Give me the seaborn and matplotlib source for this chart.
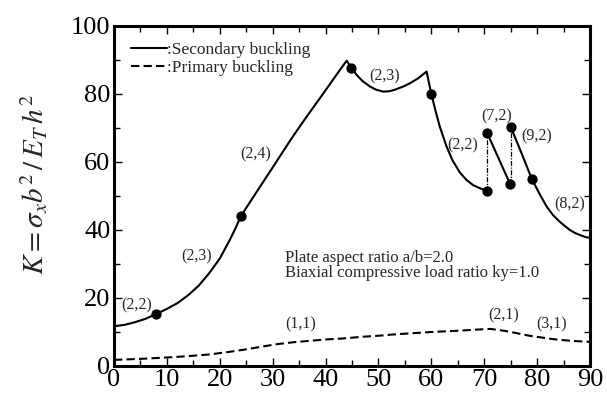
import matplotlib
matplotlib.use("Agg")
import matplotlib.pyplot as plt
from matplotlib.ticker import MultipleLocator
import seaborn as sns

# ---- data ----
sec1_x = [0, 2, 4, 6, 8, 10, 12, 14, 16, 18, 20, 22, 23, 24, 25, 27.6, 30, 33.6, 36,
          38.9, 41, 43, 44.0, 44.9, 46, 47, 48.4, 49.5, 50.9, 52, 53, 54.7, 56, 57.5,
          59.1, 60.0, 60.8, 61.6, 62.3, 62.9, 64, 65.4, 66.6, 67.9, 69.3, 70.6]
sec1_y = [11.7, 12.1, 12.9, 13.9, 15.3, 16.8, 18.5, 20.8, 23.6, 27.3, 31.6, 37.4, 40.6,
          44.1, 46.5, 52.7, 58.4, 67.0, 72.4, 78.7, 83.3, 87.7, 89.8, 87.6, 85.4, 83.8,
          82.2, 81.3, 80.7, 80.8, 81.2, 82.2, 83.2, 84.6, 86.6, 80.0, 75.0, 70.4, 67.2,
          64.5, 60.5, 56.9, 54.8, 53.2, 52.2, 51.6]
sec2_x = [70.6, 74.9]
sec2_y = [68.4, 53.5]
sec3_x = [75.0, 77.0, 79.0, 80.5, 81.8, 83.0, 84.3, 85.3, 86.2, 87.2, 88.3, 89.2, 90.0]
sec3_y = [70.4, 62.8, 55.0, 50.5, 46.9, 44.4, 42.4, 41.1, 40.0, 39.1, 38.4, 37.9, 37.7]

jump_x = [70.6, 75.0]
jump_lo = [51.6, 53.5]
jump_hi = [68.4, 70.4]

pt_x = [8, 24, 44.9, 60.0, 70.6, 70.6, 74.9, 75.0, 79.0]
pt_y = [15.3, 44.1, 87.6, 80.0, 51.6, 68.4, 53.5, 70.4, 55.0]

pri_x = [0, 5, 10, 14, 18.1, 22, 25, 28, 30.7, 34, 37, 40, 43.3, 47, 50, 53, 56.0, 60,
         65.4, 68.5, 71.2, 74, 76, 78.5, 81.2, 83, 85, 87.5, 90]
pri_y = [1.8, 2.1, 2.5, 2.9, 3.4, 4.2, 4.9, 5.7, 6.4, 7.0, 7.4, 7.8, 8.1, 8.6, 8.9,
         9.3, 9.6, 10.0, 10.4, 10.7, 10.9, 10.3, 9.7, 8.9, 8.3, 7.9, 7.6, 7.3, 7.1]

mode_labels = ["(2,2)", "(2,3)", "(2,4)", "(2,3)", "(2,2)", "(7,2)", "(9,2)", "(8,2)",
               "(1,1)", "(2,1)", "(3,1)"]
mode_x = [4.3, 15.6, 26.7, 51.2, 66.0, 72.3, 79.9, 86.2, 35.2, 73.6, 82.7]
mode_y = [17.9, 32.1, 62.1, 85.1, 65.0, 73.3, 67.4, 47.6, 12.1, 15.0, 12.1]

xticks = [0, 10, 20, 30, 40, 50, 60, 70, 80, 90]
yticks = [0, 20, 40, 60, 80, 100]
note_lines = ["Plate aspect ratio a/b=2.0", "Biaxial compressive load ratio ky=1.0"]
legend_labels = [":Secondary buckling", ":Primary buckling"]
ylabel = r"$K\,\!=\,\!\sigma_x b^2\,/\,E_T\, h^2$"

# ---- style ----
sns.set_theme(style="ticks")
plt.rcParams["font.family"] = ["Liberation Serif", "DejaVu Serif"]
plt.rcParams["mathtext.fontset"] = "stix"

fig = plt.figure(figsize=(6.07, 3.94), dpi=100)
ax = fig.add_axes([114 / 607, 1 - 366 / 394, 476 / 607, 340 / 394])

lw = 1.5
sns.lineplot(x=sec1_x, y=sec1_y, ax=ax, color="black", lw=lw, sort=False,
             estimator=None, label=legend_labels[0])
sns.lineplot(x=sec2_x, y=sec2_y, ax=ax, color="black", lw=lw, sort=False, estimator=None)
sns.lineplot(x=sec3_x, y=sec3_y, ax=ax, color="black", lw=lw, sort=False, estimator=None)
sns.lineplot(x=pri_x, y=pri_y, ax=ax, color="black", lw=1.5, sort=False,
             estimator=None, linestyle=(0, (4, 2)), label=legend_labels[1])
for jx, lo, hi in zip(jump_x, jump_lo, jump_hi):
    sns.lineplot(x=[jx, jx], y=[lo, hi], ax=ax, color="black", lw=0.9,
                 linestyle=(0, (4, 1.2, 1, 1.2)), estimator=None, sort=False)
sns.scatterplot(x=pt_x, y=pt_y, ax=ax, color="black", s=55, edgecolor="black",
                linewidth=0, zorder=5)

for lab, xx, yy in zip(mode_labels, mode_x, mode_y):
    ax.text(xx, yy, lab, ha="center", va="center", fontsize=11.5)

ax.text(32.3, 31.7, note_lines[0], ha="left", va="center", fontsize=12)
ax.text(32.3, 27.3, note_lines[1], ha="left", va="center", fontsize=12)

ax.set_xlim(0, 90)
ax.set_ylim(0, 100)
ax.set_xticks(xticks)
ax.set_yticks(yticks)
ax.xaxis.set_minor_locator(MultipleLocator(5))
ax.yaxis.set_minor_locator(MultipleLocator(10))
ax.tick_params(which="both", direction="in", top=True, right=True, width=1.0,
               colors="black", labelsize=19, pad=2.5)
ax.tick_params(which="major", length=6)
ax.tick_params(which="minor", length=4)
for s in ax.spines.values():
    s.set_linewidth(2.2)
    s.set_color("black")
    s.set_visible(True)

ax.set_ylabel(ylabel, fontsize=21)
ax.yaxis.set_label_coords(-0.135, 0.535)

leg = ax.legend(loc="upper left", bbox_to_anchor=(0.035, 0.952), frameon=False,
                fontsize=12.5, handlelength=2.1, handletextpad=0.0,
                borderaxespad=0, borderpad=0, labelspacing=0.1)

fig.savefig("out.png", dpi=100)
